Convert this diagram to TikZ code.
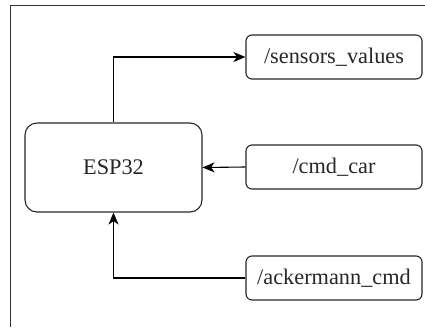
\documentclass[tikz,border=0pt]{standalone}
\usepackage{fontspec}
\setmainfont{Liberation Serif}
\usetikzlibrary{arrows.meta}
\begin{document}
\begin{tikzpicture}[x=1pt,y=-1pt,
  box/.style={draw=black!85, line width=1.1pt, rounded corners=6pt, minimum width=176pt, minimum height=44pt, inner sep=0pt, font=\fontsize{22.3}{26}\selectfont, text=black!85},
  bigbox/.style={box, rounded corners=12pt, minimum width=177pt, minimum height=89pt},
  arr/.style={draw=black, line width=1.1pt, -{Stealth[length=12pt,width=10pt,inset=3.5pt]}}]
\useasboundingbox (0,0) rectangle (425,327);
\draw[black!80, line width=1pt] (10,327) -- (10,5) -- (425,5);
\node[bigbox] (esp) at (113.5,167.5) {ESP32};
\node[box] (sens) at (334,57) {/sensors\_values};
\node[box] (cmd) at (334,167) {/cmd\_car};
\node[box] (ack) at (334,278) {/ackermann\_cmd};
\draw[arr] (esp.north) |- (sens.west);
\draw[arr] (cmd.west) -- (esp.east);
\draw[arr] (ack.west) -| (esp.south);
\end{tikzpicture}
\end{document}
